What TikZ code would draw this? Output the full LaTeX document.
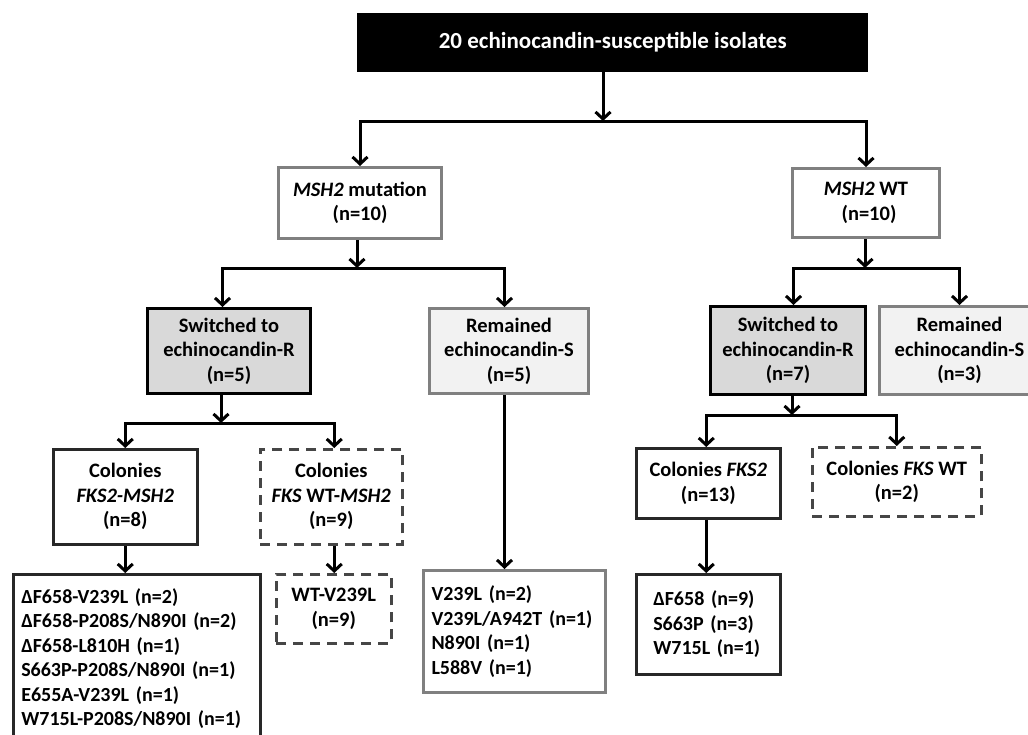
\documentclass[tikz,border=0pt]{standalone}
\usepackage{fontspec}
\setmainfont{Carlito}
\usetikzlibrary{arrows.meta,calc}
\definecolor{bordergrey}{RGB}{128,128,128}
\definecolor{swfill}{RGB}{217,217,217}
\definecolor{remfill}{RGB}{242,242,242}
\definecolor{darkline}{RGB}{40,40,40}
\definecolor{dashline}{RGB}{70,70,70}
\begin{document}
\begin{tikzpicture}[x=1pt,y=-1pt,
  every node/.style={font=\bfseries\fontsize{20.5}{24.5}\selectfont, inner sep=0pt, align=center, anchor=north west},
  titlebox/.style={fill=black, text=white, font=\bfseries\fontsize{23}{27}\selectfont},
  greybox/.style={draw=bordergrey, line width=3pt, fill=white},
  swbox/.style={draw=black, line width=3pt, fill=swfill},
  rembox/.style={draw=bordergrey, line width=3pt, fill=remfill},
  blkbox/.style={draw=darkline, line width=2.5pt, fill=white},
  dashbox/.style={draw=dashline, line width=2.5pt, fill=white, dash pattern=on 10pt off 7pt},
  listtext/.style={font=\bfseries\fontsize{20}{24.5}\selectfont, align=left},
  arr/.style={line width=3pt, -{Straight Barb[length=7pt,width=15pt]}}
]
\useasboundingbox (0,0) rectangle (1028,734);

% boxes
\node[titlebox, minimum width=511pt, minimum height=59pt] (top) at (357,13) {20 echinocandin-susceptible isolates};

\node[greybox, minimum width=163pt, minimum height=71pt] (mut) at (277,166) {\textit{MSH2} mutation\\(n=10)};
\node[greybox, minimum width=147pt, minimum height=69pt] (wt) at (791,167) {\textit{MSH2} WT\\\hspace*{6pt}(n=10)};

\node[swbox, minimum width=163pt, minimum height=85pt] (sw1) at (146,307) {Switched to\\echinocandin-R\\(n=5)};
\node[rembox, minimum width=159pt, minimum height=85pt] (rem1) at (428,307) {Remained\\echinocandin-S\\(n=5)};
\node[swbox, minimum width=155pt, minimum height=88pt] (sw2) at (709,305) {Switched to\\echinocandin-R\\(n=7)};
\node[rembox, minimum width=160pt, minimum height=88pt] (rem2) at (878,305) {Remained\\echinocandin-S\\(n=3)};

\node[blkbox, minimum width=144pt, minimum height=95pt] (c1) at (52,448) {Colonies\\\textit{FKS2-MSH2}\\(n=8)};
\node[dashbox, minimum width=142pt, minimum height=95pt] (c2) at (259,448) {Colonies\\\textit{FKS} WT-\textit{MSH2}\\(n=9)};
\node[blkbox, minimum width=144pt, minimum height=70pt] (c3) at (635,447) {Colonies \textit{FKS2}\\(n=13)};
\node[dashbox, minimum width=169pt, minimum height=69pt] (c4) at (811,446) {Colonies \textit{FKS} WT\\(n=2)};

\node[blkbox, listtext, minimum width=247pt, minimum height=169pt, text width=231pt, inner xsep=8pt] (l1) at (12,573)
  {ΔF658-V239L (n=2)\\ΔF658-P208S/N890I (n=2)\\ΔF658-L810H (n=1)\\S663P-P208S/N890I (n=1)\\E655A-V239L (n=1)\\W715L-P208S/N890I (n=1)};
\node[dashbox, minimum width=115pt, minimum height=69pt] (wtv) at (275,573) {WT-V239L\\(n=9)};
\node[greybox, listtext, minimum width=182pt, minimum height=122pt, text width=166pt, inner xsep=8pt] (l2) at (422,569)
  {V239L (n=2)\\V239L/A942T (n=1)\\N890I (n=1)\\L588V (n=1)};
\node[blkbox, listtext, minimum width=144pt, minimum height=100pt, text width=110pt, inner xsep=17pt] (l3) at (635,573)
  {ΔF658 (n=9)\\S663P (n=3)\\W715L (n=1)};

% junctions
\coordinate (j1) at (603,121);
\coordinate (j2) at (357,268);
\coordinate (j3) at (221,423);
\coordinate (j4) at (865,268);
\coordinate (j5) at (792,415);

% connectors
\draw[arr] (top.south -| j1) -- (j1);
\draw[arr] (j1) -| (mut.north);
\draw[arr] (j1) -| (wt.north);

\draw[arr] (mut.south -| j2) -- (j2);
\draw[arr] (j2) -| ([xshift=-6.5pt]sw1.north);
\draw[arr] (j2) -| ([xshift=-4.5pt]rem1.north);

\draw[arr] (sw1.south -| j3) -- (j3);
\draw[arr] (j3) -| (c1.north);
\draw[arr] (j3) -| ([xshift=3pt]c2.north);
\draw[arr] (c1.south) -- (c1.south |- l1.north);
\draw[arr] ([xshift=3pt]c2.south) -- ([xshift=3pt]c2.south |- wtv.north);
\draw[arr] ([xshift=-4.5pt]rem1.south) -- ([xshift=-4.5pt]rem1.south |- l2.north);

\draw[arr] (wt.south -| j4) -- (j4);
\draw[arr] (j4) -| ([xshift=5.5pt]sw2.north);
\draw[arr] (j4) -| (rem2.north);

\draw[arr] (sw2.south -| j5) -- (j5);
\draw[arr] (j5) -| ([xshift=-2pt]c3.north);
\draw[arr] (j5) -| (c4.north);
\draw[arr] ([xshift=-2pt]c3.south) -- ([xshift=-2pt]c3.south |- l3.north);
\end{tikzpicture}
\end{document}
